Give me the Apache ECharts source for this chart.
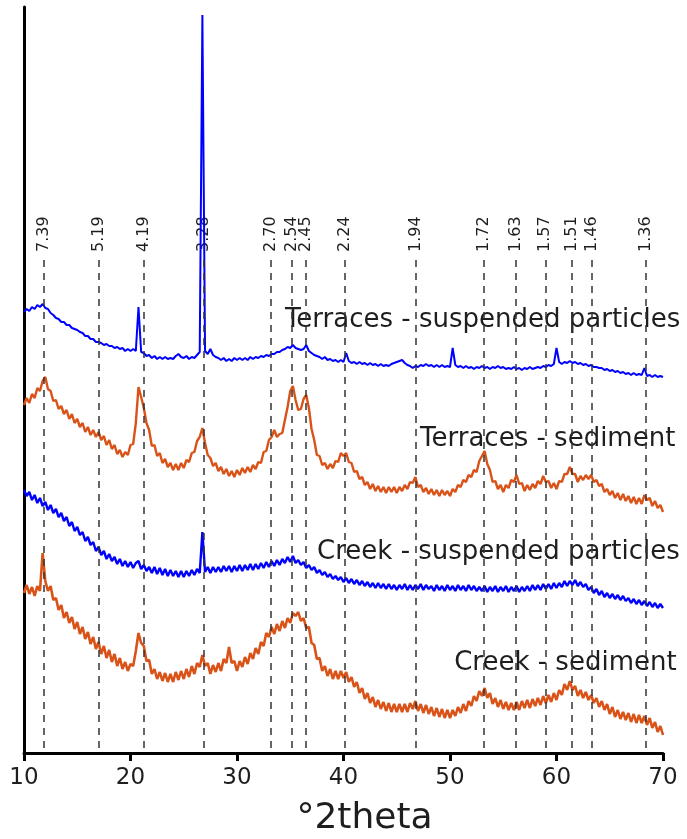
<!DOCTYPE html>
<html>
<head>
<meta charset="utf-8">
<script src="https://cdn.jsdelivr.net/npm/echarts@6/dist/echarts.min.js"></script>
<style>
  html, body { margin: 0; padding: 0; background: #ffffff; }
  #chart { width: 687px; height: 839px; }
</style>
</head>
<body>
<div id="chart"></div>
<script>
// XRD patterns, stacked with vertical offsets (arbitrary intensity units).
// Every pattern is sampled from 10 to 70 °2theta in steps of 0.25°.
const THETA_START = 10;
const THETA_STEP = 0.25;

const terracesSuspended = [
  441, 444, 442, 446,   444, 448, 446, 449,   445, 444, 440, 438,   435, 434, 431, 431,
  428, 428, 425, 424,   423, 421, 420, 417,   417, 414, 414, 411,   411, 410, 408, 409,
  407, 407, 405, 406,   404, 405, 402, 404,   402, 404, 402, 446,   401, 400, 397, 398,
  395, 397, 394, 396,   394, 396, 394, 395,   394, 397, 399, 396,   395, 397, 394, 396,
  395, 398, 401, 738,   402, 399, 404, 398,   396, 395, 393, 395,   392, 394, 392, 395,
  393, 395, 393, 395,   393, 396, 394, 396,   395, 397, 396, 398,   397, 399, 399, 401,
  401, 403, 404, 406,   405, 408, 405, 404,   403, 404, 408, 402,   400, 398, 397, 396,
  394, 396, 393, 394,   392, 393, 391, 393,   391, 400, 392, 390,   391, 389, 391, 389,
  390, 388, 390, 388,   389, 387, 389, 387,   388, 387, 389, 390,   391, 392, 393, 390,
  388, 387, 385, 387,   386, 388, 387, 389,   387, 388, 386, 388,   386, 388, 386, 387,
  386, 405, 388, 386,   387, 385, 387, 385,   386, 384, 386, 385,   387, 385, 386, 384,
  386, 385, 387, 385,   386, 384, 385, 384,   386, 384, 385, 383,   385, 384, 386, 384,
  385, 386, 385, 387,   386, 388, 387, 389,   405, 391, 389, 391,   390, 392, 390, 391,
  389, 390, 388, 389,   387, 388, 386, 386,   385, 385, 383, 384,   382, 383, 381, 382,
  380, 381, 379, 380,   378, 380, 378, 379,   378, 385, 377, 378,   376, 378, 376, 377,
  376
];

const terracesSediment = [
  348, 355, 350, 359,   355, 365, 362, 372,   376, 364, 362, 352,   353, 344, 347, 339,
  343, 334, 339, 330,   334, 326, 330, 321,   326, 318, 323, 316,   321, 313, 317, 308,
  313, 304, 308, 299,   303, 296, 301, 298,   308, 309, 330, 366,   356, 345, 330, 323,
  307, 308, 297, 300,   290, 294, 286, 290,   283, 289, 283, 290,   285, 293, 291, 300,
  301, 312, 316, 325,   310, 298, 295, 287,   290, 282, 286, 279,   284, 277, 282, 276,
  283, 278, 285, 280,   286, 281, 288, 284,   291, 290, 301, 302,   313, 316, 323, 316,
  319, 320, 333, 346,   362, 367, 353, 343,   344, 354, 358, 345,   324, 313, 298, 297,
  288, 290, 284, 289,   285, 292, 291, 300,   297, 300, 291, 290,   281, 282, 274, 276,
  268, 271, 264, 269,   262, 267, 261, 266,   260, 266, 261, 266,   260, 266, 262, 268,
  264, 271, 270, 276,   266, 268, 261, 265,   259, 264, 258, 263,   257, 263, 258, 262,
  257, 264, 261, 268,   266, 273, 271, 278,   276, 283, 281, 292,   297, 302, 289, 283,
  271, 272, 264, 268,   261, 268, 265, 273,   271, 278, 269, 270,   262, 268, 263, 269,
  265, 272, 269, 277,   271, 272, 265, 270,   264, 272, 271, 279,   279, 286, 279, 279,
  271, 277, 273, 278,   274, 278, 271, 273,   267, 269, 261, 264,   258, 262, 255, 260,
  253, 259, 252, 257,   250, 256, 249, 255,   249, 258, 253, 255,   247, 252, 245, 248,
  241
];

const creekSuspended = [
  263, 257, 261, 253,   258, 250, 255, 247,   251, 243, 248, 240,   244, 236, 240, 232,
  236, 227, 231, 222,   226, 218, 221, 212,   216, 208, 211, 202,   206, 198, 202, 194,
  199, 192, 196, 189,   194, 187, 192, 186,   191, 185, 190, 192,   184, 188, 182, 186,
  180, 186, 179, 185,   178, 184, 177, 183,   177, 182, 176, 182,   176, 182, 177, 183,
  178, 184, 180, 221,   181, 186, 180, 186,   181, 186, 181, 187,   182, 187, 181, 187,
  182, 188, 182, 188,   183, 189, 183, 189,   184, 190, 185, 191,   186, 192, 187, 193,
  188, 194, 190, 196,   191, 197, 190, 193,   188, 191, 185, 188,   183, 186, 180, 183,
  178, 181, 176, 179,   174, 177, 173, 176,   171, 175, 170, 174,   169, 173, 168, 172,
  167, 171, 166, 170,   165, 170, 165, 169,   164, 169, 164, 168,   163, 168, 164, 169,
  163, 168, 163, 168,   164, 169, 163, 168,   164, 167, 162, 168,   163, 167, 162, 168,
  163, 167, 162, 168,   163, 167, 162, 168,   163, 167, 162, 166,   162, 167, 161, 166,
  162, 167, 161, 166,   162, 167, 161, 166,   162, 167, 161, 166,   162, 167, 162, 168,
  163, 168, 163, 169,   164, 169, 164, 170,   165, 170, 166, 172,   167, 172, 168, 173,
  167, 171, 166, 169,   163, 166, 160, 164,   158, 162, 156, 160,   155, 159, 154, 158,
  153, 157, 152, 155,   150, 154, 149, 153,   148, 152, 147, 151,   146, 150, 145, 149,
  145
];

const creekSediment = [
  160, 168, 159, 166,   157, 167, 162, 200,   172, 162, 167, 153,   155, 143, 148, 135,
  141, 130, 136, 124,   131, 119, 126, 114,   121, 109, 116, 104,   111,  99, 107,  95,
  103,  91,  99,  87,    95,  84,  91,  82,    89,  87, 102, 120,   110, 107,  92,  93,
   79,  84,  74,  81,    72,  80,  71,  79,    71,  81,  73,  82,    74,  84,  76,  87,
   79,  90,  86,  98,    87,  90,  79,  88,    81,  90,  82,  94,    90, 106,  90,  92,
   82,  92,  86,  96,    89, 100,  94, 105,    99, 111, 107, 120,   116, 126, 119, 129,
  122, 132, 125, 135,   130, 140, 137, 141,   132, 135, 125, 126,   110, 108,  94,  95,
   82,  87,  77,  84,    74,  82,  74,  82,    75,  81,  71,  76,    66,  71,  60,  65,
   54,  60,  50,  56,    46,  53,  44,  51,    42,  50,  41,  49,    41,  49,  41,  49,
   41,  50,  44,  52,    42,  49,  40,  48,    39,  46,  37,  45,    36,  44,  35,  43,
   35,  43,  37,  46,    40,  49,  42,  52,    47,  57,  52,  62,    57,  65,  55,  60,
   49,  55,  46,  53,    44,  51,  43,  50,    43,  51,  43,  52,    45,  53,  45,  54,
   47,  55,  48,  57,    50,  58,  51,  60,    53,  63,  58,  69,    63,  72,  63,  67,
   57,  63,  55,  61,    53,  58,  50,  55,    46,  52,  43,  49,    39,  46,  36,  43,
   34,  41,  33,  40,    31,  39,  30,  38,    30,  37,  28,  35,    25,  31,  21,  27,
   18
];

const seriesNames = [
  'Terraces - suspended particles',
  'Terraces - sediment',
  'Creek - suspended particles',
  'Creek - sediment'
];

// Reference reflections: d-spacing (Å) and the °2theta where each line is drawn.
const dSpacingLabels = ['7.39', '5.19', '4.19', '3.28', '2.70', '2.54', '2.45', '2.24',
                        '1.94', '1.72', '1.63', '1.57', '1.51', '1.46', '1.36'];
const dSpacingTheta  = [11.9, 17.06, 21.25, 26.9, 33.2, 35.15, 36.45, 40.1,
                        46.75, 53.2, 56.2, 58.95, 61.4, 63.3, 68.4];

const xTickLabels = ['10', '20', '30', '40', '50', '60', '70'];

// Caption anchors (°2theta, intensity) – text is right-aligned on the anchor.
const captionAnchors = [[71.63, 433], [71.16, 314], [71.57, 201], [71.28, 90]];

const BLUE = '#0000ff';
const ORANGE = '#d95319';
const FONT = 'DejaVu Sans';

function toPairs(values) {
  return values.map((v, i) => [THETA_START + THETA_STEP * i, v]);
}

const patterns = [terracesSuspended, terracesSediment, creekSuspended, creekSediment];
const colors = [BLUE, ORANGE, BLUE, ORANGE];
const widths = [2, 2.4, 2.4, 2.6];

const lineSeries = patterns.map((vals, k) => ({
  name: seriesNames[k],
  type: 'line',
  data: toPairs(vals),
  showSymbol: false,
  symbol: 'none',
  lineStyle: { color: colors[k], width: widths[k] },
  z: 3,
  silent: true,
  animation: false
}));

const LABEL_LEVEL = 501;   // bottom of the rotated d-spacing labels
const LINE_TOP = 495;      // top of the dashed reference lines
const LINE_BOTTOM = 5;

const hiddenDot = { color: 'rgba(0,0,0,0)', borderWidth: 0, opacity: 1 };

const referenceSeries = {
  name: 'reflections',
  type: 'scatter',
  data: dSpacingTheta.map((t, i) => ({ value: [t, LABEL_LEVEL], name: dSpacingLabels[i] })),
  symbolSize: 1,
  itemStyle: hiddenDot,
  clip: false,
  silent: true,
  animation: false,
  z: 2,
  label: {
    show: true,
    position: 'inside',
    rotate: 90,
    align: 'left',
    verticalAlign: 'middle',
    formatter: p => p.name,
    fontFamily: FONT,
    fontSize: 16,
    color: '#1e1e1e'
  },
  labelLayout: { hideOverlap: false },
  markLine: {
    silent: true,
    animation: false,
    symbol: ['none', 'none'],
    label: { show: false },
    lineStyle: { color: '#333333', width: 1.5, type: [7, 6] },
    data: dSpacingTheta.map(t => [{ coord: [t, LINE_BOTTOM] }, { coord: [t, LINE_TOP] }])
  }
};

const captionSeries = {
  name: 'captions',
  type: 'scatter',
  data: captionAnchors.map((c, i) => ({ value: c, name: seriesNames[i] })),
  symbolSize: 1,
  itemStyle: hiddenDot,
  clip: false,
  silent: true,
  animation: false,
  z: 4,
  label: {
    show: true,
    position: 'inside',
    align: 'right',
    verticalAlign: 'middle',
    formatter: p => p.name,
    fontFamily: FONT,
    fontSize: 26,
    color: '#1e1e1e'
  }
};

const chart = echarts.init(document.getElementById('chart'), null, { renderer: 'canvas' });
chart.setOption({
  animation: false,
  backgroundColor: '#ffffff',
  grid: { left: 24, right: 24, top: 7, bottom: 86, containLabel: false, outerBoundsMode: 'none' },
  xAxis: {
    type: 'value',
    min: 10,
    max: 70,
    interval: 10,
    name: '°2theta',
    nameLocation: 'middle',
    nameGap: 48,
    nameTextStyle: { fontFamily: FONT, fontSize: 36, color: '#1e1e1e', padding: [0, 0, 0, 42] },
    axisLine: { show: true, onZero: false, lineStyle: { color: '#000000', width: 3 } },
    axisTick: { show: true, inside: false, length: 8, lineStyle: { color: '#000000', width: 3 } },
    axisLabel: {
      margin: 14,
      fontFamily: FONT,
      fontSize: 23,
      color: '#1e1e1e',
      formatter: v => xTickLabels[Math.round((v - 10) / 10)] ?? ''
    },
    splitLine: { show: false }
  },
  yAxis: {
    type: 'value',
    min: 0,
    max: 746,
    axisLine: { show: true, lineStyle: { color: '#000000', width: 3 } },
    axisTick: { show: false },
    axisLabel: { show: false },
    splitLine: { show: false }
  },
  series: [referenceSeries, ...lineSeries, captionSeries]
});
</script>
</body>
</html>
